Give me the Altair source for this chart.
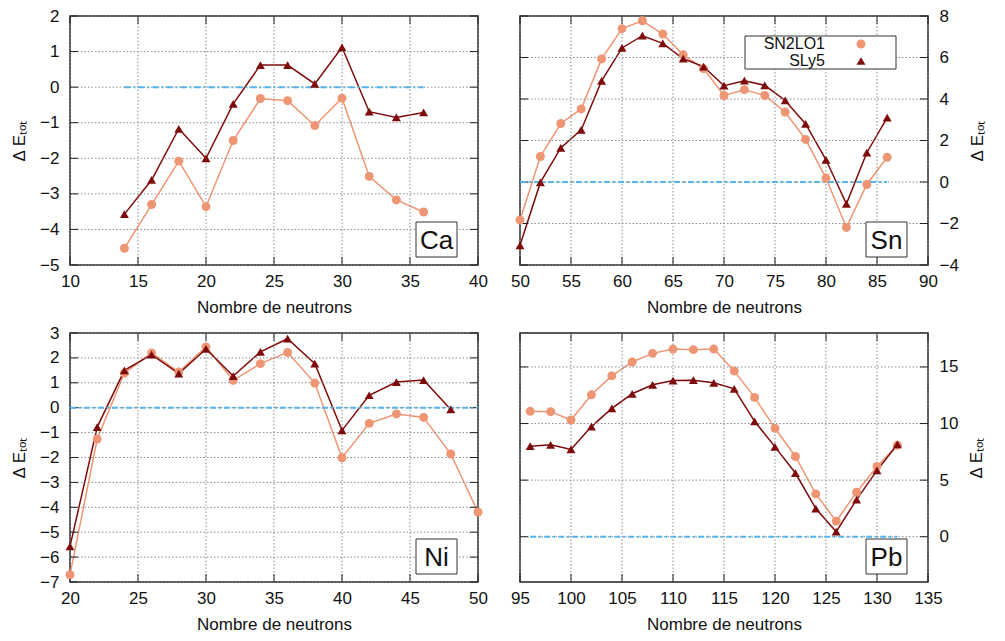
import altair as alt
import pandas as pd

# ---------------- data ----------------
models = ["SN2LO1", "SLy5"]
model_colors = ["#EE9573", "#7E0B0B"]
model_shapes = ["circle", "triangle-up"]

ca_n = [14, 16, 18, 20, 22, 24, 26, 28, 30, 32, 34, 36]
ca_sn2lo1 = [-4.53, -3.30, -2.08, -3.36, -1.50, -0.32, -0.38, -1.08, -0.31, -2.51, -3.17, -3.51]
ca_sly5 = [-3.57, -2.61, -1.17, -2.00, -0.47, 0.62, 0.62, 0.09, 1.12, -0.69, -0.85, -0.71]

sn_n = [50, 52, 54, 56, 58, 60, 62, 64, 66, 68, 70, 72, 74, 76, 78, 80, 82, 84, 86]
sn_sn2lo1 = [-1.83, 1.23, 2.82, 3.52, 5.93, 7.39, 7.77, 7.13, 6.13, 5.46, 4.17, 4.45, 4.17, 3.37, 2.05, 0.19, -2.19, -0.12, 1.19]
sn_sly5 = [-3.05, -0.02, 1.64, 2.51, 4.87, 6.46, 7.05, 6.68, 5.94, 5.56, 4.64, 4.88, 4.66, 3.93, 2.80, 1.07, -1.05, 1.41, 3.10]

ni_n_sn2lo1 = [20, 22, 24, 26, 28, 30, 32, 34, 36, 38, 40, 42, 44, 46, 48, 50]
ni_sn2lo1 = [-6.71, -1.26, 1.39, 2.20, 1.43, 2.44, 1.10, 1.77, 2.22, 0.99, -2.01, -0.63, -0.25, -0.39, -1.86, -4.19]
ni_n_sly5 = [20, 22, 24, 26, 28, 30, 32, 34, 36, 38, 40, 42, 44, 46, 48]
ni_sly5 = [-5.57, -0.78, 1.50, 2.13, 1.37, 2.36, 1.27, 2.24, 2.77, 1.77, -0.91, 0.50, 1.03, 1.11, -0.07]

pb_n = [96, 98, 100, 102, 104, 106, 108, 110, 112, 114, 116, 118, 120, 122, 124, 126, 128, 130, 132]
pb_sn2lo1 = [11.08, 11.05, 10.31, 12.54, 14.21, 15.44, 16.20, 16.58, 16.53, 16.58, 14.65, 12.31, 9.58, 7.09, 3.78, 1.38, 3.93, 6.21, 8.09]
pb_sly5 = [8.00, 8.12, 7.71, 9.73, 11.34, 12.63, 13.42, 13.80, 13.83, 13.60, 13.07, 10.20, 7.94, 5.63, 2.49, 0.44, 3.28, 5.86, 8.15]

x_title = "Nombre de neutrons"
y_title = "Δ Eₜₒₜ"

W, H = 408, 249
FONT = "Liberation Sans"
ZERO_COLOR = "#56B4E9"
GRID_COLOR = "#8c8c8c"
FRAME_COLOR = "#222222"
TICK_LEN = 8

color_scale = alt.Scale(domain=models, range=model_colors)
shape_scale = alt.Scale(domain=models, range=model_shapes)


def make_panel(name, n1, v1, n2, v2, xdom, ydom, xticks, yticks, side, zero_rng, legend=False):
    df = pd.DataFrame({
        "N": list(n1) + list(n2),
        "E": list(v1) + list(v2),
        "model": [models[0]] * len(n1) + [models[1]] * len(n2),
    })
    xs = alt.Scale(domain=xdom, nice=False, zero=False)
    ys = alt.Scale(domain=ydom, nice=False, zero=False)

    xt = pd.DataFrame({"v": xticks})
    yt = pd.DataFrame({"v": yticks})

    main_axis_x = alt.Axis(orient="bottom", values=xticks, ticks=False, domain=False,
                           grid=False, title=x_title, labelPadding=8, titlePadding=10,
                           labelFlush=False)
    main_axis_y = alt.Axis(orient=side, values=yticks, ticks=False, domain=False,
                           grid=False, title=y_title, labelPadding=11,
                           titlePadding=11, titleAngle=270,
                           titleBaseline="bottom" if side == "left" else "top",
                           labelFlush=False)

    base = alt.Chart(df)
    # first layer carries the axes
    lines = base.mark_line(strokeWidth=1.5).encode(
        x=alt.X("N:Q", scale=xs, axis=main_axis_x),
        y=alt.Y("E:Q", scale=ys, axis=main_axis_y),
        color=alt.Color("model:N", scale=color_scale, legend=None),
        detail="model:N",
    )

    # grid lines (dotted) at tick values
    xgrid = alt.Chart(xt).mark_rule(color=GRID_COLOR, strokeWidth=1, strokeDash=[1.5, 2]).encode(
        x=alt.X("v:Q", scale=xs, axis=None))
    ygrid = alt.Chart(yt).mark_rule(color=GRID_COLOR, strokeWidth=1, strokeDash=[1.5, 2]).encode(
        y=alt.Y("v:Q", scale=ys, axis=None))

    # inward ticks on all four edges (gnuplot style)
    tick_style = dict(color=FRAME_COLOR, strokeWidth=1)
    xt_bot = alt.Chart(xt).mark_rule(**tick_style).encode(
        x=alt.X("v:Q", scale=xs, axis=None), y=alt.value(H), y2=alt.value(H - TICK_LEN))
    xt_top = alt.Chart(xt).mark_rule(**tick_style).encode(
        x=alt.X("v:Q", scale=xs, axis=None), y=alt.value(0), y2=alt.value(TICK_LEN))
    yt_left = alt.Chart(yt).mark_rule(**tick_style).encode(
        y=alt.Y("v:Q", scale=ys, axis=None), x=alt.value(0), x2=alt.value(TICK_LEN))
    yt_right = alt.Chart(yt).mark_rule(**tick_style).encode(
        y=alt.Y("v:Q", scale=ys, axis=None), x=alt.value(W - TICK_LEN), x2=alt.value(W))

    pts = base.mark_point(filled=True, opacity=1, size=80).encode(
        x=alt.X("N:Q", scale=xs, axis=None),
        y=alt.Y("E:Q", scale=ys, axis=None),
        color=alt.Color("model:N", scale=color_scale, legend=None),
        shape=alt.Shape("model:N", scale=shape_scale, legend=None),
    )
    zdf = pd.DataFrame({"a": [zero_rng[0]], "b": [zero_rng[1]], "z": [0]})
    zero = alt.Chart(zdf).mark_rule(color=ZERO_COLOR, strokeWidth=2,
                                    strokeDash=[6, 3, 2, 3]).encode(
        x=alt.X("a:Q", scale=xs, axis=None),
        x2="b:Q",
        y=alt.Y("z:Q", scale=ys, axis=None),
    )
    ldf = pd.DataFrame({"t": [name]})
    box = alt.Chart(ldf).mark_rect(fill="white", stroke="#333", strokeWidth=1).encode(
        x=alt.value(W - 62), x2=alt.value(W - 21),
        y=alt.value(H - 43), y2=alt.value(H - 8),
    )
    lab = alt.Chart(ldf).mark_text(font=FONT, fontSize=26, color="#111",
                                   align="center", baseline="middle").encode(
        x=alt.value(W - 41.5), y=alt.value(H - 24.5), text="t:N",
    )
    layers = [lines, xgrid, ygrid, xt_bot, xt_top, yt_left, yt_right, zero, pts, box, lab]
    if legend:
        lbox = alt.Chart(pd.DataFrame({"t": ["legend"]})).mark_rect(
            fill="white", stroke="#333", strokeWidth=1).encode(
            x=alt.value(225), x2=alt.value(376), y=alt.value(20), y2=alt.value(53))
        layers.append(lbox)
        for i, m in enumerate(models):
            one = pd.DataFrame({"model": [m]})
            txt = alt.Chart(one).mark_text(font=FONT, fontSize=16, color="#111",
                                           align="right", baseline="middle").encode(
                x=alt.value(305), y=alt.value(28 + 17 * i), text="model:N")
            sym = alt.Chart(one).mark_point(filled=True, opacity=1, size=80).encode(
                x=alt.value(341), y=alt.value(28 + 17 * i),
                color=alt.Color("model:N", scale=color_scale, legend=None),
                shape=alt.Shape("model:N", scale=shape_scale, legend=None))
            layers += [txt, sym]
    return alt.layer(*layers).resolve_axis(x="independent", y="independent").properties(
        width=W, height=H)


ca = make_panel("Ca", ca_n, ca_sn2lo1, ca_n, ca_sly5, [10, 40], [-5, 2],
                list(range(10, 41, 5)), list(range(-5, 3)), "left", [14, 36])
sn = make_panel("Sn", sn_n, sn_sn2lo1, sn_n, sn_sly5, [50, 90], [-4, 8],
                list(range(50, 91, 5)), list(range(-4, 9, 2)), "right", [50, 86], legend=True)
ni = make_panel("Ni", ni_n_sn2lo1, ni_sn2lo1, ni_n_sly5, ni_sly5, [20, 50], [-7, 3],
                list(range(20, 51, 5)), list(range(-7, 4)), "left", [20, 50])
pb = make_panel("Pb", pb_n, pb_sn2lo1, pb_n, pb_sly5, [95, 135], [-4, 18],
                list(range(95, 136, 5)), [0, 5, 10, 15], "right", [96, 132])

chart = alt.concat(ca, sn, ni, pb, columns=2, spacing={"row": 68, "column": 42},
                   bounds="flush").properties(
    padding={"left": 1, "right": 0, "top": -2, "bottom": 0}
).configure_view(
    stroke=FRAME_COLOR, strokeWidth=1.5
).configure_axis(
    labelFont=FONT, titleFont=FONT, labelFontSize=17, titleFontSize=17,
    labelColor="#111", titleColor="#111", titleFontWeight="normal",
)

chart.save("out.html", embed_options={"renderer": "svg", "actions": False})
